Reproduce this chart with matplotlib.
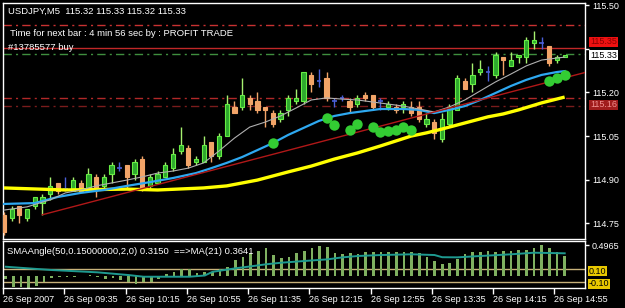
import matplotlib
matplotlib.use("Agg")
import matplotlib.pyplot as plt
import pandas as pd

W, H = 625, 308

# USDJPY M5, 26 Sep 2007, bars 08:55 .. 15:00
opens = [114.78, 114.77, 114.81, 114.77, 114.81, 114.82, 114.85, 114.89, 114.87, 114.86,
         114.89, 114.87, 114.91, 114.88, 114.92, 114.94, 114.95, 114.92, 114.97, 114.88,
         114.89, 114.91, 114.94, 115.00, 115.01, 114.96, 114.96, 115.03, 114.98, 115.05,
         115.15, 115.15, 115.18, 115.17, 115.15, 115.13, 115.11, 115.14, 115.17, 115.17,
         115.26, 115.24, 115.25, 115.17, 115.18, 115.17, 115.16, 115.19, 115.19, 115.17,
         115.15, 115.15, 115.15, 115.15, 115.15, 115.09, 115.10, 115.04, 115.09, 115.14,
         115.24, 115.23, 115.27, 115.27, 115.26, 115.32, 115.29, 115.32, 115.32, 115.37,
         115.37, 115.36, 115.31, 115.32]
highs = [114.79, 114.81, 114.81, 114.80, 114.84, 114.85, 114.91, 114.89, 114.91, 114.91,
         114.90, 114.94, 114.92, 114.92, 114.96, 114.96, 114.95, 114.97, 114.98, 114.92,
         114.93, 114.96, 115.01, 115.08, 115.02, 114.98, 115.05, 115.03, 115.06, 115.19,
         115.17, 115.25, 115.19, 115.20, 115.15, 115.14, 115.14, 115.19, 115.21, 115.27,
         115.27, 115.28, 115.27, 115.18, 115.19, 115.18, 115.19, 115.20, 115.19, 115.18,
         115.17, 115.16, 115.17, 115.17, 115.17, 115.13, 115.11, 115.13, 115.16, 115.26,
         115.25, 115.30, 115.31, 115.29, 115.34, 115.32, 115.34, 115.33, 115.39, 115.41,
         115.39, 115.36, 115.33, 115.33]
lows = [114.71, 114.76, 114.75, 114.76, 114.80, 114.78, 114.83, 114.85, 114.86, 114.86,
        114.86, 114.87, 114.84, 114.87, 114.89, 114.93, 114.87, 114.90, 114.86, 114.87,
        114.89, 114.91, 114.93, 114.99, 114.94, 114.95, 114.96, 114.96, 114.97, 115.05,
        115.13, 115.14, 115.14, 115.13, 115.08, 115.08, 115.10, 115.12, 115.16, 115.16,
        115.20, 115.22, 115.17, 115.15, 115.17, 115.13, 115.15, 115.17, 115.14, 115.14,
        115.14, 115.13, 115.13, 115.12, 115.10, 115.08, 115.04, 115.03, 115.08, 115.14,
        115.21, 115.20, 115.26, 115.24, 115.25, 115.26, 115.29, 115.30, 115.30, 115.35,
        115.35, 115.29, 115.30, 115.32]
closes = [114.72, 114.80, 114.78, 114.80, 114.84, 114.84, 114.88, 114.86, 114.87, 114.90,
          114.86, 114.92, 114.87, 114.91, 114.95, 114.94, 114.91, 114.96, 114.87, 114.91,
          114.92, 114.95, 114.99, 115.02, 114.95, 114.97, 115.02, 114.98, 115.05, 115.16,
          115.13, 115.19, 115.16, 115.14, 115.14, 115.09, 115.13, 115.18, 115.18, 115.27,
          115.23, 115.24, 115.18, 115.17, 115.18, 115.15, 115.18, 115.18, 115.15, 115.17,
          115.16, 115.14, 115.16, 115.13, 115.11, 115.11, 115.06, 115.11, 115.15, 115.25,
          115.21, 115.26, 115.28, 115.27, 115.33, 115.31, 115.31, 115.33, 115.38, 115.38,
          115.37, 115.30, 115.32, 115.33]

# moving averages (bar index, price)
slow_idx = [0, 8, 16, 20, 26, 29, 31, 33, 35, 37, 40, 43, 46, 49, 51, 53, 55, 57, 59, 61, 63, 65, 67, 70, 73]
slow_val = [114.872, 114.865, 114.868, 114.865, 114.872, 114.879, 114.889, 114.899, 114.913, 114.927,
            114.947, 114.971, 114.992, 115.016, 115.033, 115.050, 115.061, 115.074, 115.088, 115.102,
            115.116, 115.126, 115.140, 115.164, 115.184]
mid_idx = [0, 4, 7, 10, 13, 16, 19, 22, 25, 27, 29, 31, 33, 35, 37, 39, 41, 43, 45, 47, 49, 52,
           54, 56, 58, 60, 62, 64, 66, 68, 70, 72, 73]
mid_val = [114.817, 114.820, 114.841, 114.855, 114.865, 114.879, 114.892, 114.906, 114.923, 114.940,
           114.958, 114.978, 115.002, 115.026, 115.054, 115.078, 115.102, 115.119, 115.129, 115.136,
           115.143, 115.143, 115.140, 115.129, 115.140, 115.153, 115.174, 115.198, 115.222, 115.243,
           115.260, 115.270, 115.273]
fast_idx = [0, 3, 6, 8, 10, 12, 14, 16, 18, 20, 22, 24, 26, 28, 30, 32, 34, 36, 38, 40, 42, 44,
            46, 48, 50, 52, 54, 56, 58, 60, 62, 64, 66, 68, 70, 72, 73]
fast_val = [114.796, 114.807, 114.831, 114.855, 114.865, 114.879, 114.889, 114.899, 114.910, 114.923,
            114.930, 114.940, 114.958, 114.999, 115.043, 115.081, 115.098, 115.119, 115.146, 115.174,
            115.181, 115.177, 115.174, 115.167, 115.160, 115.153, 115.143, 115.133, 115.150, 115.174,
            115.205, 115.236, 115.263, 115.291, 115.311, 115.318, 115.321]

# trend line anchors and signal dots
trend_idx = [5, 73]
trend_val = [114.78, 115.25]
dot_idx = [35, 42, 43, 45, 46, 48, 49, 50, 51, 52, 53, 71, 72, 73]
dot_val = [115.027, 115.111, 115.088, 115.071, 115.090, 115.082, 115.065, 115.067, 115.071,
           115.082, 115.071, 115.240, 115.249, 115.260]

# horizontal levels
level_price = [115.43, 115.352, 115.333, 115.18, 115.155]
level_color = ["#c83232", "#c02828", "#3f8f3f", "#b02828", "#7a1c1c"]
level_style = [(0, (6, 3, 1.5, 3)), "-", (0, (6, 3, 1.5, 3)), (0, (6, 3, 1.5, 3)), (0, (6, 3, 1.5, 3))]

# SMAAngle histogram and its MA(21)
angle = [-0.05, -0.184, -0.184, -0.20, -0.172, -0.111, -0.04, -0.03, -0.02, -0.02,
         -0.01, 0.01, -0.03, -0.06, -0.04, -0.07, -0.111, -0.144, -0.111, -0.10,
         -0.05, 0.02, 0.06, 0.10, 0.10, 0.04, 0.05, 0.06, 0.10, 0.144,
         0.254, 0.298, 0.364, 0.40, 0.446, 0.336, 0.292, 0.308, 0.364, 0.40,
         0.446, 0.489, 0.472, 0.364, 0.348, 0.364, 0.348, 0.39, 0.39, 0.39,
         0.38, 0.39, 0.38, 0.38, 0.364, 0.308, 0.238, 0.184, 0.20, 0.266,
         0.348, 0.39, 0.39, 0.40, 0.39, 0.40, 0.40, 0.418, 0.418, 0.456,
         0.4965, 0.446, 0.38, 0.315]
angle_ma_idx = [0, 6, 12, 16, 18, 24, 26, 27, 30, 32, 34, 36, 39, 42, 44, 46, 49, 53, 56, 57, 59, 62, 66, 69, 73]
angle_ma_val = [0.144, 0.090, 0.052, 0.008, -0.02, -0.02, 0.0, 0.06, 0.118, 0.15, 0.184, 0.21, 0.238,
                0.265, 0.298, 0.32, 0.336, 0.348, 0.336, 0.30, 0.298, 0.32, 0.348, 0.374, 0.3641]

tick_labels = ["26 Sep 2007", "26 Sep 09:35", "26 Sep 10:15", "26 Sep 10:55", "26 Sep 11:35",
               "26 Sep 12:15", "26 Sep 12:55", "26 Sep 13:35", "26 Sep 14:15", "26 Sep 14:55"]
tick_times = ["08:55", "09:35", "10:15", "10:55", "11:35", "12:15", "12:55", "13:35", "14:15", "14:55"]

times = pd.date_range("2007-09-26 08:55", periods=len(opens), freq="5min")
xs = list(range(len(opens)))
tick_pos = [list(times.strftime("%H:%M")).index(t) - 0.35 for t in tick_times]

plt.rcParams["font.family"] = ["Liberation Sans", "DejaVu Sans"]


def fx(px):
    return px / W


def fy(py):
    return 1 - py / H


fig = plt.figure(figsize=(W / 100, H / 100), dpi=100, facecolor="black")
ax = fig.add_axes([fx(3), fy(239), fx(582), 236 / H], facecolor="black")
ax2 = fig.add_axes([fx(3), fy(288), fx(582), 47 / H], facecolor="black")

for a in (ax, ax2):
    for s in a.spines.values():
        s.set_color("white")
        s.set_linewidth(1)
    a.set_xlim(-0.13, 75.65)

# levels
for p, c, ls in zip(level_price, level_color, level_style):
    ax.axhline(p, color=c, lw=1, ls=ls, zorder=1)

# candles
for i in xs:
    o, h, l, c = opens[i], highs[i], lows[i], closes[i]
    if c > o:
        wick, face, edge = "#a6f070", "#2ea82e", "#66ee44"
    elif c < o:
        wick, face, edge = "#f2a468", "#f2a468", "#f2a468"
    else:
        wick, face, edge = "#4a5fd8", "#4a5fd8", "#4a5fd8"
    ax.vlines(i, l, h, color=wick, lw=1, zorder=3)
    if c == o:
        ax.hlines(o, i - 0.3, i + 0.3, color=face, lw=1.2, zorder=4)
    else:
        ax.bar(i, abs(c - o), bottom=min(o, c), width=0.55, color=face,
               edgecolor=edge, lw=0.8, zorder=4)

# indicators
ax.plot(slow_idx, slow_val, color="#ffff00", lw=2.4, zorder=5, solid_capstyle="butt")
ax.plot(mid_idx, mid_val, color="#2ea8f0", lw=1.6, zorder=5)
ax.plot(fast_idx, fast_val, color="#b0b0b0", lw=0.8, zorder=5)
slope = (trend_val[1] - trend_val[0]) / (trend_idx[1] - trend_idx[0])
x_end = ax.get_xlim()[1]
ax.plot([trend_idx[0], x_end], [trend_val[0], trend_val[0] + slope * (x_end - trend_idx[0])],
        color="#b01818", lw=1, zorder=5)
ax.plot(dot_idx, dot_val, "o", color="#33cc33", ms=7.5, mew=0, zorder=6)

ax.set_ylim(114.6967, 115.5069)
ax.set_xticks([])
ax.yaxis.tick_right()
yt = [114.75, 114.90, 115.05, 115.20, 115.35, 115.50]
ax.set_yticks(yt)
# the 115.35 label sits under the price boxes
ax.set_yticklabels(["" if v == 115.35 else "%.2f" % v for v in yt])
ax.tick_params(axis="y", colors="white", labelsize=6.5, length=3, width=1, pad=2)

# sub window
ax2.bar(xs, angle, width=0.35, color="#7fb060", zorder=2)
ax2.axhline(0.1, color="#c8b27a", lw=1, zorder=1)
ax2.axhline(-0.1, color="#c8b27a", lw=1, zorder=1)
ax2.plot(angle_ma_idx, angle_ma_val, color="#1e9a90", lw=1.4, zorder=3)
ax2.set_ylim(-0.205, 0.566)
ax2.yaxis.tick_right()
ax2.set_yticks([0.4965])
ax2.set_yticklabels(["0.4965"])
ax2.tick_params(axis="y", colors="white", labelsize=6.5, length=3, width=1, pad=2)
ax2.set_xticks(tick_pos)
ax2.set_xticklabels(tick_labels, ha="left")
ax2.tick_params(axis="x", colors="white", labelsize=6.5, length=4, width=1, pad=1)

# texts
tk = dict(color="white", fontsize=6.8, va="center", ha="left")
fig.text(fx(8), fy(11), "USDJPY,M5  115.32 115.33 115.32 115.33", **tk)
fig.text(fx(10), fy(33), "Time for next bar : 4 min 56 sec by : PROFIT TRADE", **tk)
fig.text(fx(8), fy(48), "#13785577 buy", **tk)
fig.text(fx(7), fy(251), "SMAAngle(50,0.15000000,2,0) 0.3150  ==>MA(21) 0.3641", **tk)

lab = dict(fontsize=6.5, va="center", ha="left")
fig.text(fx(590), fy(42), "115.35", color="#8a0000",
         bbox=dict(boxstyle="square,pad=0.1", fc="#ee1111", ec="none"), **lab)
fig.text(fx(590), fy(55), "115.33", color="black",
         bbox=dict(boxstyle="square,pad=0.1", fc="white", ec="none"), **lab)
fig.text(fx(590), fy(105), "115.16", color="#f09090",
         bbox=dict(boxstyle="square,pad=0.1", fc="#a01c1c", ec="none"), **lab)
fig.text(fx(589), fy(271), "0.10", color="black",
         bbox=dict(boxstyle="square,pad=0.1", fc="#e8c800", ec="none"), **lab)
fig.text(fx(589), fy(284), "-0.10", color="black",
         bbox=dict(boxstyle="square,pad=0.1", fc="#e8c800", ec="none"), **lab)

fig.savefig("out.png", dpi=100, facecolor="black")
